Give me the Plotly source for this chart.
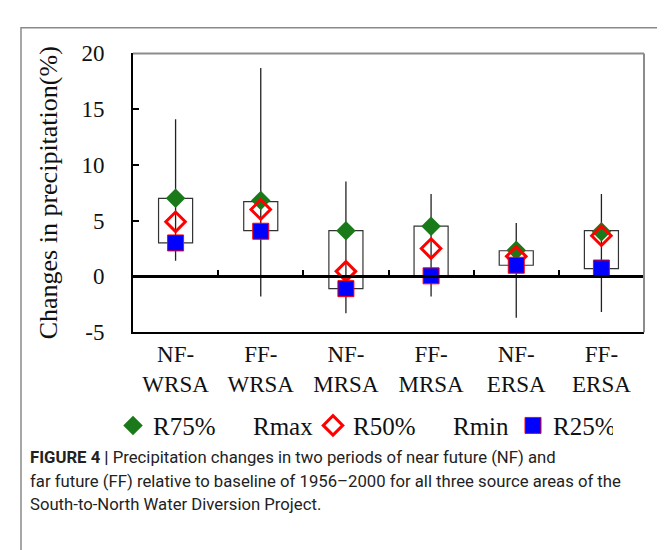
import plotly.graph_objects as go

categories = ["NF-<br>WRSA", "FF-<br>WRSA", "NF-<br>MRSA", "FF-<br>MRSA", "NF-<br>ERSA", "FF-<br>ERSA"]
r75 = [7.0, 6.8, 4.1, 4.5, 2.35, 4.0]
r50 = [4.9, 6.0, 0.45, 2.5, 1.8, 3.65]
r25 = [3.0, 4.05, -1.1, 0.05, 1.0, 0.75]
rmax = [14.1, 18.7, 8.5, 7.4, 4.8, 7.4]
rmin = [1.4, -1.8, -3.3, -1.8, -3.7, -3.2]
box_low = [3.0, 4.1, -1.1, 0.0, 1.0, 0.7]
box_high = [7.0, 6.7, 4.1, 4.5, 2.3, 4.1]
yticks = [-5, 0, 5, 10, 15, 20]
ytick_text = ["-5", "0", "5", "10", "15", "20"]

W, H = 665, 550
L, R, T, B = 125, 636, 35, 327
xs = list(range(len(categories)))

serif = "Liberation Serif"

fig = go.Figure()

# boxes (R25..R75)
fig.add_trace(go.Bar(
    x=xs, y=[h - l for h, l in zip(box_high, box_low)], base=box_low, width=0.4,
    marker=dict(color="rgba(255,255,255,0)", line=dict(color="#333333", width=1.2)),
    showlegend=False, hoverinfo="skip"))

# whiskers
wx, wy = [], []
for i in xs:
    wx += [i, i, None]
    wy += [rmin[i], rmax[i], None]
fig.add_trace(go.Scatter(x=wx, y=wy, mode="lines", line=dict(color="#222222", width=1.3),
                         showlegend=False, hoverinfo="skip"))

fig.add_trace(go.Scatter(x=xs, y=r75, mode="markers", name="R75%",
                         marker=dict(symbol="diamond", size=15, color="#1a7a1a")))
fig.add_trace(go.Scatter(x=xs, y=rmax, mode="markers", name="Rmax",
                         marker=dict(size=1, color="rgba(0,0,0,0)")))
fig.add_trace(go.Scatter(x=xs, y=r50, mode="markers", name="R50%",
                         marker=dict(symbol="diamond-open", size=15, color="#ff0000",
                                     line=dict(width=3, color="#ff0000"))))
fig.add_trace(go.Scatter(x=xs, y=rmin, mode="markers", name="Rmin",
                         marker=dict(size=1, color="rgba(0,0,0,0)")))
fig.add_trace(go.Scatter(x=xs, y=r25, mode="markers", name="R25%",
                         marker=dict(symbol="square", size=16, color="#0000ff",
                                     line=dict(width=1, color="#ff0000"))))

ydom = [1 - B / H, 1 - T / H]
xdom = [L / W, R / W]
zero_pos = ydom[0] + (0 - (-5)) / 25 * (ydom[1] - ydom[0])

fig.update_layout(
    width=W, height=H, margin=dict(l=0, r=0, t=0, b=0),
    paper_bgcolor="white", plot_bgcolor="white",
    barmode="overlay",
    xaxis=dict(domain=xdom, range=[-0.5, 5.5], tickvals=xs, ticktext=categories,
               showgrid=False, zeroline=False, showline=True, linecolor="black", linewidth=2,
               ticks="", tickfont=dict(family=serif, size=23, color="#111"), fixedrange=True),
    xaxis2=dict(domain=xdom, range=[-0.5, 5.5], overlaying="x", anchor="free", position=zero_pos,
                tickvals=[0.5, 1.5, 2.5, 3.5, 4.5], ticks="inside", ticklen=6, tickwidth=2,
                tickcolor="black", showticklabels=False, showline=True, linecolor="black",
                linewidth=2.5, showgrid=False, zeroline=False),
    yaxis=dict(domain=ydom, range=[-5, 20], tickvals=yticks, ticktext=ytick_text,
               ticks="inside", ticklen=6,
               tickwidth=1.5, tickcolor="black", showline=True, linecolor="black", linewidth=2,
               showgrid=False, zeroline=False, ticklabelstandoff=22,
               tickfont=dict(family=serif, size=23, color="#111"),
               title=dict(text="Changes in precipitation(%)", standoff=16,
                          font=dict(family=serif, size=26, color="#111"))),
    legend=dict(orientation="h", x=105 / W, xanchor="left", y=1 - 425 / H, yanchor="middle",
                font=dict(family=serif, size=25, color="#111"), bgcolor="rgba(0,0,0,0)",
                entrywidth=55, entrywidthmode="pixels", itemsizing="trace"),
    showlegend=True,
)
# dummy trace on xaxis2 so it renders
fig.add_trace(go.Scatter(x=[None], y=[None], xaxis="x2", showlegend=False))

# plot frame top/right in gray
fig.add_shape(type="line", xref="paper", yref="paper", x0=xdom[0], x1=xdom[1], y0=ydom[1], y1=ydom[1],
              line=dict(color="#8c8c8c", width=2))
fig.add_shape(type="line", xref="paper", yref="paper", x0=xdom[1], x1=xdom[1], y0=ydom[0], y1=ydom[1],
              line=dict(color="#8c8c8c", width=2))
# outer frame
fig.add_shape(type="rect", xref="paper", yref="paper", x0=13 / W, x1=660 / W, y0=-0.05, y1=1 - 8 / H,
              line=dict(color="#8a8a8a", width=1.5))

cap_font = dict(family="Roboto", size=16.7, color="#222")
caption = [
    "<b>FIGURE 4 |</b> Precipitation changes in two periods of near future (NF) and",
    "far future (FF) relative to baseline of 1956–2000 for all three source areas of the",
    "South-to-North Water Diversion Project.",
]
for i, line in enumerate(caption):
    fig.add_annotation(text=line, xref="paper", yref="paper", x=20 / W, y=1 - (458 + 25 * i) / H,
                       xanchor="left", yanchor="middle", showarrow=False, font=cap_font)

fig.write_html("out.html")
